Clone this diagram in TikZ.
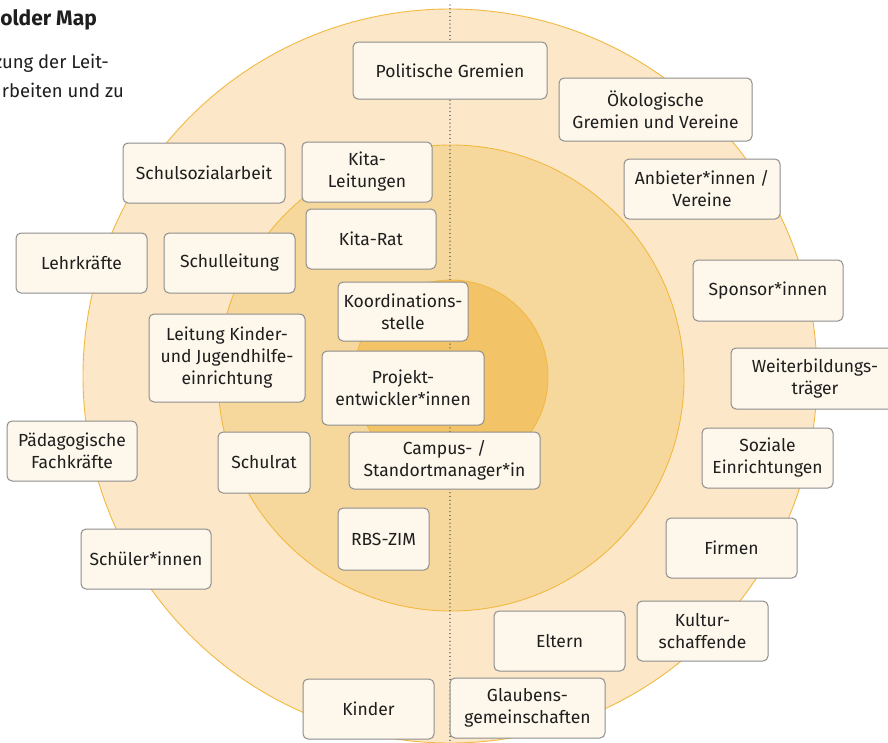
\documentclass[tikz,border=0pt]{standalone}
\usepackage{fontspec}
\setmainfont{Fira Sans}
\definecolor{ringOuter}{HTML}{FCE8C8}
\definecolor{ringMid}{HTML}{F7D89C}
\definecolor{ringInner}{HTML}{F3C367}
\definecolor{ringLine}{HTML}{F2B942}
\definecolor{boxFill}{HTML}{FEF7EB}
\definecolor{boxLine}{HTML}{8E8E8E}
\definecolor{inkText}{HTML}{1E1E1E}
\tikzset{
  ring/.style={draw=ringLine, line width=0.9pt},
  axis/.style={draw=gray!85!black, line width=1.3pt, dash pattern=on 0.01pt off 3.8pt, line cap=round},
  actor/.style={draw=boxLine, fill=boxFill, line width=1pt, rounded corners=5pt,
    align=center, text=inkText, inner sep=2pt,
    font=\fontsize{17.5}{22}\selectfont},
  intro/.style={anchor=base east, text=inkText, inner sep=0pt,
    font=\fontsize{18.5}{22}\selectfont},
}
\begin{document}
\begin{tikzpicture}[x=1pt,y=-1pt]
\useasboundingbox (0,0) rectangle (888,742);
\fill[white] (0,0) rectangle (888,742);
\clip (0,0) rectangle (888,742);

% heading and intro lines, cut off at the left edge
\node[intro, font=\fontsize{21}{24}\selectfont\bfseries] (title) at (97,25) {older Map};
\node[intro] (introA) at (109,68) {zung der Leit-};
\node[intro] (introB) at (124,97) {rbeiten und zu};

% three concentric rings
\fill[ringOuter] (450,376) circle[radius=367];
\draw[ring] (450,376) circle[radius=367];
\fill[ringMid] (451,378) circle[radius=233];
\draw[ring] (451,378) circle[radius=233];
\fill[ringInner] (451,377) circle[radius=97];
\draw[ring] (451,377) circle[radius=97];

% vertical dotted divider
\coordinate (axtop) at (450,5);
\coordinate (axbot) at (450,742);
\draw[axis] (axtop) -- (axbot);

% stakeholder boxes
\node[actor, minimum width=194, minimum height=57] (pol) at (450,70.5) {Politische Gremien};
\node[actor, minimum width=193, minimum height=63] (oeko) at (655.5,109.5) {Ökologische\\Gremien und Vereine};
\node[actor, minimum width=156, minimum height=60] (anb) at (702,189) {Anbieter*innen /\\Vereine};
\node[actor, minimum width=150, minimum height=61] (spon) at (768,290.5) {Sponsor*innen};
\node[actor, minimum width=168, minimum height=61] (weit) at (815,378.5) {Weiterbildungs-\\träger};
\node[actor, minimum width=131, minimum height=60] (soz) at (767.5,458) {Soziale\\Einrichtungen};
\node[actor, minimum width=131, minimum height=60] (firm) at (731.5,548) {Firmen};
\node[actor, minimum width=131, minimum height=60] (kult) at (702.5,631) {Kultur-\\schaffende};
\node[actor, minimum width=131, minimum height=60] (elt) at (559.5,641) {Eltern};
\node[actor, minimum width=155, minimum height=60] (glaub) at (527.5,708) {Glaubens-\\gemeinschaften};
\node[actor, minimum width=131, minimum height=60] (kind) at (368.5,709) {Kinder};
\node[actor, minimum width=130, minimum height=60] (schue) at (146,559) {Schüler*innen};
\node[actor, minimum width=130, minimum height=60] (paed) at (72,451) {Pädagogische\\Fachkräfte};
\node[actor, minimum width=92, minimum height=61] (srat) at (264,462.5) {Schulrat};
\node[actor, minimum width=91, minimum height=62] (rbs) at (383.5,539) {RBS-ZIM};
\node[actor, minimum width=156, minimum height=88] (ljh) at (227,358) {Leitung Kinder-\\und Jugendhilfe-\\einrichtung};
\node[actor, minimum width=131, minimum height=60] (lehr) at (81.5,263) {Lehrkräfte};
\node[actor, minimum width=131, minimum height=60] (sleit) at (229.5,263) {Schulleitung};
\node[actor, minimum width=162, minimum height=60] (ssa) at (204,173) {Schulsozialarbeit};
\node[actor, minimum width=130, minimum height=60] (kital) at (367,172) {Kita-\\Leitungen};
\node[actor, minimum width=130, minimum height=60] (kitar) at (371,239) {Kita-Rat};
\node[actor, minimum width=130, minimum height=59] (koord) at (403,311.5) {Koordinations-\\stelle};
\node[actor, minimum width=162, minimum height=74] (proj) at (403,388) {Projekt-\\entwickler*innen};
\node[actor, minimum width=191, minimum height=57] (camp) at (444.5,460.5) {Campus- /\\Standortmanager*in};
\end{tikzpicture}
\end{document}
